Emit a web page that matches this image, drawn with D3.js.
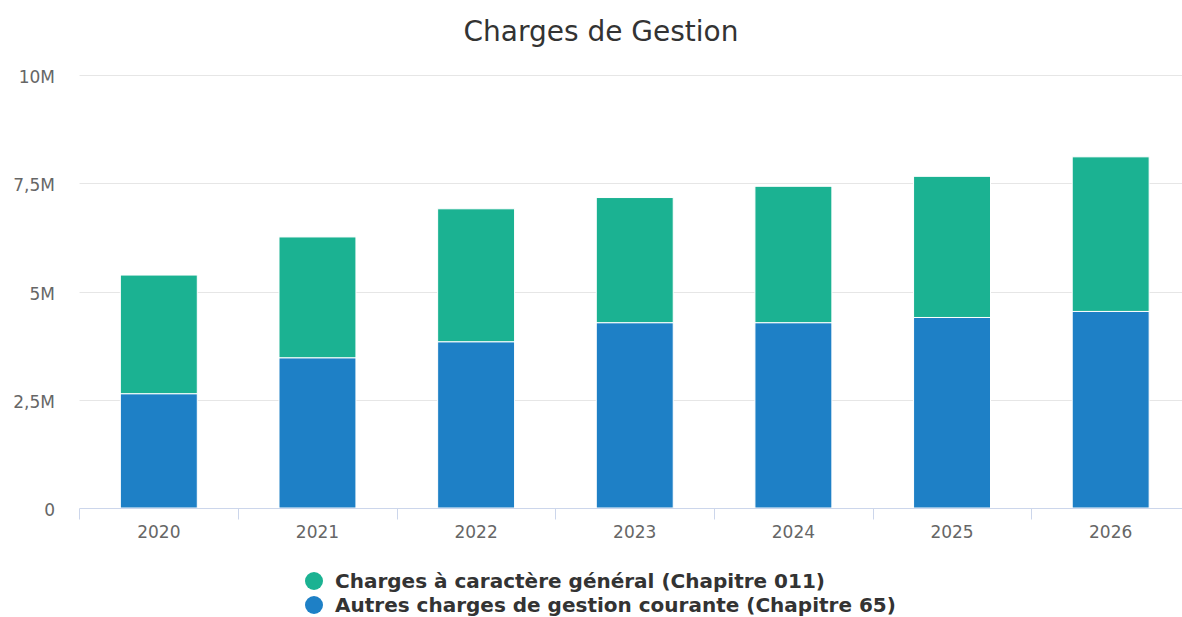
<!DOCTYPE html>
<html>
<head>
<meta charset="utf-8">
<script src="https://cdn.jsdelivr.net/npm/d3@7"></script>
<style>
  body { margin: 0; background: #fff; }
  svg { font-family: "DejaVu Sans", Verdana, sans-serif; }
</style>
</head>
<body>
<div id="chart"></div>
<script>
// data
const years = ["2020", "2021", "2022", "2023", "2024", "2025", "2026"];
const autresCharges = [2.64, 3.47, 3.84, 4.28, 4.28, 4.40, 4.54];   // Chapitre 65, millions
const chargesGenerales = [2.74, 2.79, 3.07, 2.89, 3.15, 3.26, 3.57]; // Chapitre 011, millions
const yTicks = [0, 2.5, 5, 7.5, 10];
const seriesNames = ["Charges à caractère général (Chapitre 011)", "Autres charges de gestion courante (Chapitre 65)"];
const seriesColors = ["#1bb292", "#1e80c6"];

const width = 1182, height = 617;
const margin = { top: 75, right: -8, bottom: 109, left: 79.5 };

const svg = d3.select("#chart").append("svg")
    .attr("width", width)
    .attr("height", height);

svg.append("text")
    .attr("x", 601)
    .attr("y", 41)
    .attr("text-anchor", "middle")
    .attr("fill", "#333")
    .style("font-size", "28px")
    .text("Charges de Gestion");

const x = d3.scaleBand()
    .domain(years)
    .range([margin.left, width - margin.right])
    .paddingInner(0.515)
    .paddingOuter(0.2575);

const y = d3.scaleLinear()
    .domain([0, 10])
    .range([height - margin.bottom, margin.top]);

// grid lines
svg.append("g")
    .selectAll("line")
    .data(yTicks.slice(1))
    .enter().append("line")
    .attr("x1", margin.left)
    .attr("x2", width)
    .attr("y1", d => Math.round(y(d)) + 0.5)
    .attr("y2", d => Math.round(y(d)) + 0.5)
    .attr("stroke", "#e6e6e6");

// y labels
svg.append("g")
    .selectAll("text")
    .data(yTicks)
    .enter().append("text")
    .attr("x", 55)
    .attr("y", d => y(d) + 8)
    .attr("text-anchor", "end")
    .attr("fill", "#666")
    .style("font-size", "17px")
    .text(d => d === 0 ? "0" : String(d).replace(".", ",") + "M");

// stacked bars
const rows = years.map((yr, i) => ({ year: yr, c65: autresCharges[i], c011: chargesGenerales[i] }));
const stack = d3.stack().keys(["c65", "c011"])(rows);
const keyColor = { c65: seriesColors[1], c011: seriesColors[0] };

stack.forEach(layer => {
    svg.append("g")
        .selectAll("rect")
        .data(layer)
        .enter().append("rect")
        .attr("x", d => x(d.data.year))
        .attr("width", x.bandwidth())
        .attr("y", d => y(d[1]))
        .attr("height", d => y(d[0]) - y(d[1]))
        .attr("fill", keyColor[layer.key])
        .attr("stroke", "#fff")
        .attr("stroke-width", 1);
});

// x axis
const step = x.step();
const axisY = Math.round(y(0)) + 0.5;
svg.append("line")
    .attr("x1", margin.left)
    .attr("x2", width)
    .attr("y1", axisY)
    .attr("y2", axisY)
    .attr("stroke", "#ccd6eb");

svg.append("g")
    .selectAll("line")
    .data(years)
    .enter().append("line")
    .attr("x1", d => Math.round(x(d) - step * 0.2575) + 0.5)
    .attr("x2", d => Math.round(x(d) - step * 0.2575) + 0.5)
    .attr("y1", axisY)
    .attr("y2", axisY + 11)
    .attr("stroke", "#ccd6eb");

svg.append("g")
    .selectAll("text")
    .data(years)
    .enter().append("text")
    .attr("x", d => x(d) + x.bandwidth() / 2)
    .attr("y", 538)
    .attr("text-anchor", "middle")
    .attr("fill", "#666")
    .style("font-size", "17px")
    .text(d => d);

// legend
const legend = svg.append("g");
seriesNames.forEach((name, i) => {
    const ly = 581 + i * 24;
    legend.append("circle")
        .attr("cx", 314)
        .attr("cy", ly)
        .attr("r", 9)
        .attr("fill", seriesColors[i]);
    legend.append("text")
        .attr("x", 335)
        .attr("y", ly + 7)
        .attr("fill", "#333")
        .style("font-size", "20px")
        .style("font-weight", "bold")
        .text(name);
});
</script>
</body>
</html>
